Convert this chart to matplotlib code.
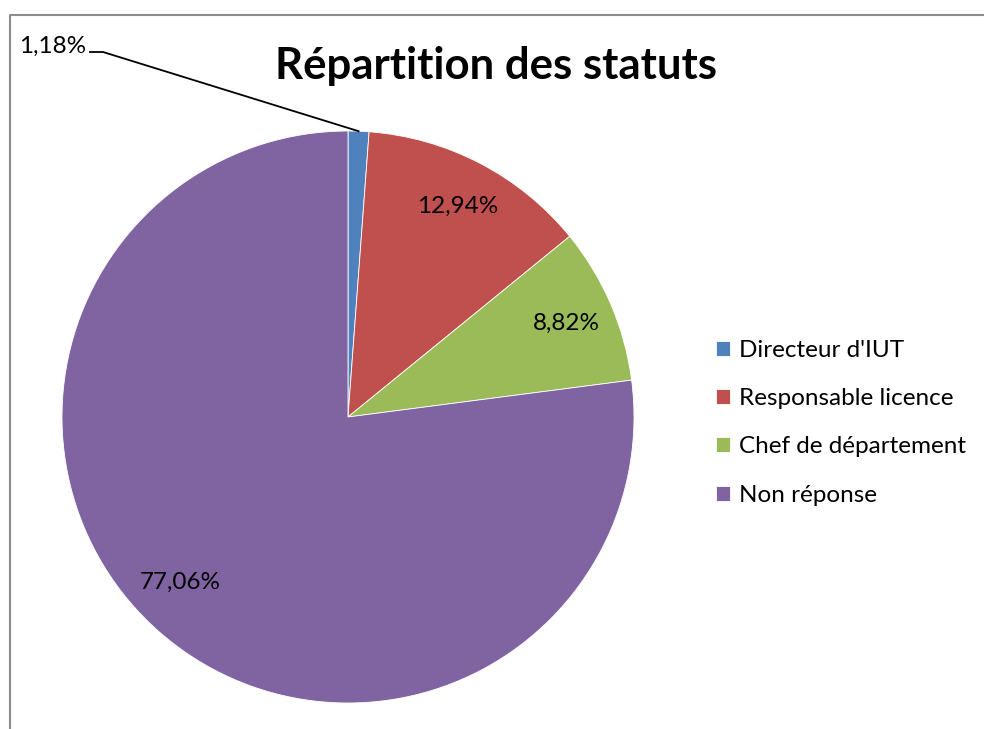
import matplotlib
matplotlib.use('Agg')
import numpy as np
import matplotlib.pyplot as plt
from matplotlib.lines import Line2D

plt.rcParams['font.family'] = ['Lato', 'DejaVu Sans']

# effectifs par statut (170 réponses)
categories = ['Directeur d\'IUT', 'Responsable licence', 'Chef de département', 'Non réponse']
counts = [2, 22, 15, 131]
colors = ['#4F81BD', '#C0504D', '#9BBB59', '#8064A2']

W, H = 984, 729
fig = plt.figure(figsize=(W / 100, H / 100), dpi=100)

# pie centre (348, 417) px, radius 286 px
cx, cy, r = 348, 417, 286
ax = fig.add_axes([(cx - r) / W, (H - cy - r) / H, 2 * r / W, 2 * r / H])


def fmt(p):
    return ('%.2f%%' % p).replace('.', ',')


wedges, texts, autotexts = ax.pie(
    counts, colors=colors, startangle=90, counterclock=False,
    autopct=fmt, pctdistance=0.83,
    wedgeprops=dict(edgecolor='white', linewidth=0.6),
    textprops=dict(fontsize=17.5, color='black'))
ax.set_xlim(-1, 1)
ax.set_ylim(-1, 1)
ax.set_aspect('auto')
ax.axis('off')
# Excel place l'étiquette de la grande part un peu plus haut
x3, y3 = autotexts[3].get_position()
autotexts[3].set_position((x3 - 0.04, y3 + 0.045))

# petite part : étiquette à l'extérieur avec trait de rappel
pct = np.array(counts) / sum(counts) * 100
autotexts[0].set_visible(False)
ang = np.deg2rad(90 - pct[0] / 100 * 360 / 2)
px, py = ax.transData.transform((np.cos(ang), np.sin(ang)))
fig.text(86 / W, 1 - 46 / H, fmt(pct[0]), ha='right', va='center', fontsize=17.5)
fig.add_artist(Line2D([90 / W, 103 / W, px / W], [1 - 52 / H, 1 - 52 / H, py / H],
                      transform=fig.transFigure, color='black', lw=1.3))

fig.text(496 / W, 1 - 66 / H, 'Répartition des statuts', ha='center', va='center',
         fontsize=31.5, fontweight='bold')

fig.legend(wedges, categories, loc='upper left', bbox_to_anchor=(716 / W, 1 - 340 / H),
           frameon=False, fontsize=17.5, handlelength=0.58, handleheight=0.58,
           handletextpad=0.37, labelspacing=1.12, borderpad=0, borderaxespad=0)

# cadre gris
fig.add_artist(Line2D([10 / W, 10 / W, 1], [0, 1 - 15 / H, 1 - 15 / H],
                      transform=fig.transFigure, color='#8c8c8c', lw=1.5))

fig.savefig('out.png', dpi=100)
